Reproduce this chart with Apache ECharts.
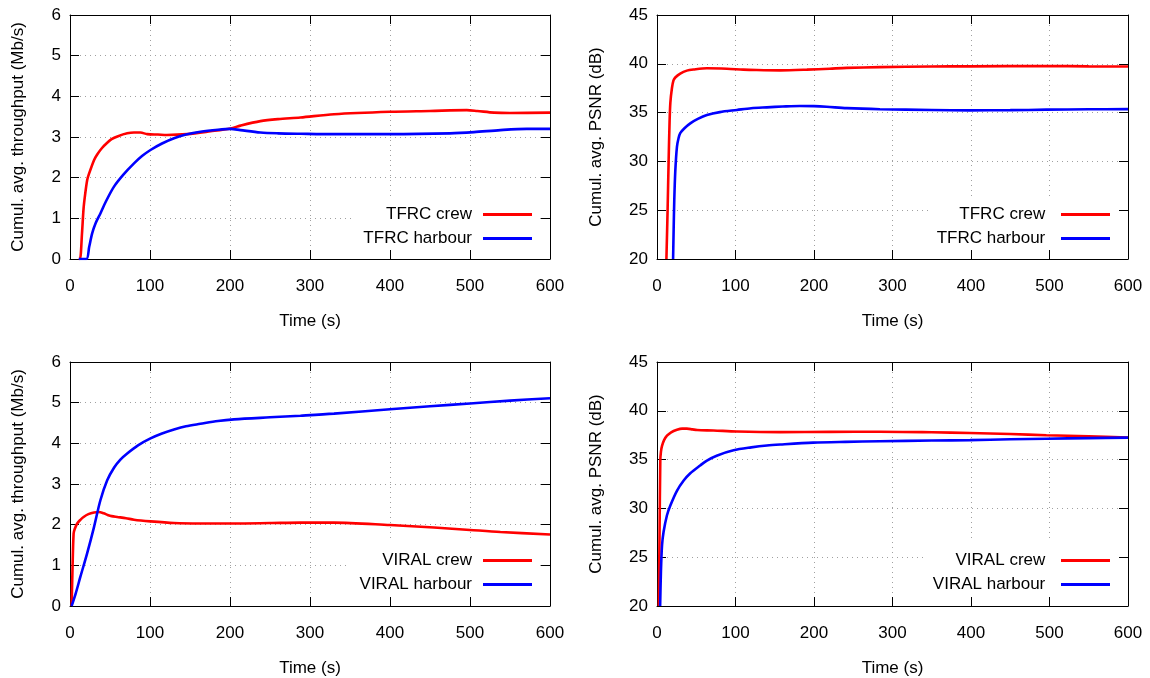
<!DOCTYPE html>
<html>
<head>
<meta charset="utf-8">
<script src="https://cdn.jsdelivr.net/npm/echarts@6/dist/echarts.min.js"></script>
<style>
html,body{margin:0;padding:0;background:#fff;}
#chart{width:1150px;height:678px;}
</style>
</head>
<body>
<div id="chart"></div>
<script>
// ---------- DATA (time s, value) ----------
const xTicks = [0, 100, 200, 300, 400, 500, 600];
const throughputTicks = [0, 1, 2, 3, 4, 5, 6];
const psnrTicks = [20, 25, 30, 35, 40, 45];

const tfrcCrewThroughput = [[11,0],[12.5,0],[15,0.63],[17,1.25],[19,1.6],[21.5,1.94],[23.5,2.08],[30,2.43],[34,2.57],[40,2.73],[46.5,2.86],[52,2.95],[60,3.02],[71.5,3.09],[80,3.11],[88,3.11],[96.5,3.07],[110,3.06],[121,3.05],[146.5,3.07],[175.6,3.14],[200.6,3.21],[213,3.28],[238,3.39],[260,3.44],[288,3.48],[330,3.56],[400,3.62],[450,3.64],[496,3.66],[509,3.64],[530,3.6],[550,3.59],[600,3.6]];
const tfrcHarbourThroughput = [[11,0],[20.5,0],[24,0.3],[27.7,0.63],[32,0.88],[38,1.12],[45,1.42],[55,1.78],[67,2.08],[80,2.35],[90,2.53],[100.6,2.68],[115,2.84],[130,2.97],[145,3.06],[163,3.13],[185,3.18],[200.6,3.2],[213,3.17],[238,3.11],[260,3.09],[288,3.08],[330,3.07],[400,3.07],[475,3.09],[505,3.12],[538,3.17],[571,3.2],[600,3.2]];
const tfrcCrewPsnr = [[12,20],[13.5,25],[14.8,30],[16,34],[17,36],[19,37.5],[21,38.3],[23.3,38.6],[29.6,39.0],[38,39.3],[46.6,39.42],[63.6,39.55],[89,39.5],[110,39.4],[127,39.36],[157,39.33],[191,39.4],[220,39.5],[241.7,39.58],[284,39.66],[350,39.72],[398.6,39.74],[496,39.77],[550,39.74],[600,39.72]];
const tfrcHarbourPsnr = [[20.5,20],[21.2,23],[22,26],[23.3,29],[25.4,31.5],[27.5,32.4],[29.6,32.9],[35,33.4],[42.4,33.9],[52,34.35],[63.6,34.75],[80,35.05],[101.8,35.27],[120,35.45],[140,35.54],[160,35.62],[182,35.68],[200,35.66],[216,35.6],[241.7,35.46],[284,35.35],[350,35.27],[398.6,35.23],[450,35.25],[496,35.3],[550,35.34],[600,35.36]];

const viralCrewThroughput = [[2,0],[3,0.8],[4.5,1.78],[6,1.9],[9,2.03],[13,2.12],[17,2.19],[23,2.26],[30,2.3],[36,2.31],[42,2.28],[47,2.24],[52,2.21],[59,2.19],[70,2.16],[80,2.12],[100.6,2.08],[130,2.04],[163,2.03],[205,2.03],[250,2.04],[288,2.05],[330,2.05],[400,1.99],[455,1.93],[500,1.87],[538,1.82],[600,1.76]];
const viralHarbourThroughput = [[2,0],[7,0.3],[13,0.72],[21.5,1.3],[30,1.94],[38,2.6],[46.5,3.09],[55,3.4],[63,3.6],[71.5,3.75],[85,3.95],[100.6,4.12],[115,4.24],[130,4.34],[145,4.42],[163,4.48],[185,4.55],[205,4.59],[250,4.64],[288,4.68],[330,4.73],[400,4.84],[450,4.91],[500,4.98],[550,5.05],[600,5.11]];
const viralCrewPsnr = [[2.3,20],[3.2,27],[4.2,34.9],[5,35.8],[6.4,36.4],[9,37.0],[12.7,37.45],[18,37.8],[25.4,38.05],[32,38.17],[38,38.17],[45,38.1],[51,38.03],[72,37.98],[101.8,37.88],[157,37.82],[220,37.84],[284,37.86],[350,37.8],[398.6,37.73],[450,37.62],[496,37.5],[550,37.38],[600,37.25]];
const viralHarbourPsnr = [[4,20],[5,23.5],[6.4,26.2],[8.4,27.6],[12.7,29.3],[17,30.3],[25.4,31.8],[34,32.85],[42.4,33.6],[55,34.4],[63.6,34.9],[76,35.4],[97.5,35.95],[120,36.25],[140,36.45],[157,36.55],[199,36.74],[240,36.82],[284,36.88],[350,36.95],[398.6,37.0],[450,37.08],[496,37.14],[550,37.2],[600,37.25]];

const panelNames = [
  ['TFRC crew', 'TFRC harbour'],
  ['TFRC crew ', 'TFRC harbour '],
  ['VIRAL crew', 'VIRAL harbour'],
  ['VIRAL crew ', 'VIRAL harbour ']
];
const panelData = [
  [tfrcCrewThroughput, tfrcHarbourThroughput],
  [tfrcCrewPsnr, tfrcHarbourPsnr],
  [viralCrewThroughput, viralHarbourThroughput],
  [viralCrewPsnr, viralHarbourPsnr]
];
const yTitles = ['Cumul. avg. throughput (Mb/s)', 'Cumul. avg. PSNR (dB)', 'Cumul. avg. throughput (Mb/s)', 'Cumul. avg. PSNR (dB)'];
const yTickSets = [throughputTicks, psnrTicks, throughputTicks, psnrTicks];
const xTitle = 'Time (s)';

// ---------- LAYOUT ----------
const FONT = '"Liberation Sans", Arial, Helvetica, sans-serif';
const FS = 17;
const grids = [
  {left: 70, top: 15, width: 480, height: 244},
  {left: 657, top: 15, width: 471, height: 244},
  {left: 70, top: 362, width: 480, height: 244},
  {left: 657, top: 362, width: 471, height: 244}
];
const yNameGaps = [43, 52, 43, 52];
const legendRights = [618, 40, 618, 40];
const legendTops = [[206, 230], [206, 230], [552, 576], [552, 576]];
const keyBoxes = [
  {x: 352, y: 199, w: 188, h: 50},
  {x: 932, y: 199, w: 187, h: 50},
  {x: 346, y: 541, w: 194, h: 55},
  {x: 926, y: 542, w: 193, h: 54}
];
const colors = ['#ff0000', '#0000ff'];

const splitStyle = {show: true, lineStyle: {color: '#a0a0a0', width: 1, type: [1, 4]}};
const lineStyleAxis = {show: true, onZero: false, lineStyle: {color: '#000', width: 1}};
const tickStyle = {show: true, inside: true, length: 9, lineStyle: {color: '#000', width: 1}};

const xAxes = [], yAxes = [], series = [], legends = [], graphics = [];
grids.forEach((g, i) => {
  const xMin = xTicks[0], xMax = xTicks[xTicks.length - 1];
  const yt = yTickSets[i];
  const yMin = yt[0], yMax = yt[yt.length - 1], yInt = yt[1] - yt[0];
  xAxes.push({
    type: 'value', gridIndex: i, position: 'bottom', min: xMin, max: xMax, interval: xTicks[1] - xTicks[0],
    axisLine: lineStyleAxis, axisTick: tickStyle,
    axisLabel: {color: '#000', fontFamily: FONT, fontSize: FS, margin: 19},
    splitLine: splitStyle,
    name: xTitle, nameLocation: 'middle', nameGap: 54,
    nameTextStyle: {color: '#000', fontFamily: FONT, fontSize: FS}
  });
  xAxes.push({
    type: 'value', gridIndex: i, position: 'top', min: xMin, max: xMax, interval: xTicks[1] - xTicks[0],
    axisLine: lineStyleAxis, axisTick: tickStyle, axisLabel: {show: false}, splitLine: {show: false}
  });
  yAxes.push({
    type: 'value', gridIndex: i, position: 'left', min: yMin, max: yMax, interval: yInt,
    axisLine: lineStyleAxis, axisTick: tickStyle,
    axisLabel: {color: '#000', fontFamily: FONT, fontSize: FS, margin: 9},
    splitLine: splitStyle,
    name: yTitles[i], nameLocation: 'middle', nameGap: yNameGaps[i], nameRotate: 90,
    nameTextStyle: {color: '#000', fontFamily: FONT, fontSize: FS}
  });
  yAxes.push({
    type: 'value', gridIndex: i, position: 'right', min: yMin, max: yMax, interval: yInt,
    axisLine: lineStyleAxis, axisTick: tickStyle, axisLabel: {show: false}, splitLine: {show: false}
  });
  panelData[i].forEach((d, k) => {
    series.push({
      type: 'line', name: panelNames[i][k], xAxisIndex: 2 * i, yAxisIndex: 2 * i,
      data: d, showSymbol: false, symbol: 'none', smooth: 0.3,
      clip: true, z: 3,
      lineStyle: {color: colors[k], width: 2.6}, itemStyle: {color: colors[k]},
      emphasis: {disabled: true}
    });
    legends.push({
      data: [panelNames[i][k]], right: legendRights[i], top: legendTops[i][k],
      align: 'right', orient: 'vertical', icon: 'rect', itemWidth: 49, itemHeight: 3,
      padding: 0, selectedMode: false, z: 5,
      textStyle: {color: '#000', fontFamily: FONT, fontSize: FS, padding: [0, 6, 0, 0]}
    });
  });
  const b = keyBoxes[i];
  graphics.push({type: 'rect', z: 1, silent: true, shape: {x: b.x, y: b.y, width: b.w, height: b.h}, style: {fill: '#fff'}});
});

const chart = echarts.init(document.getElementById('chart'), null, {renderer: 'canvas'});
chart.setOption({
  animation: false,
  backgroundColor: '#fff',
  textStyle: {fontFamily: FONT},
  grid: grids.map(g => Object.assign({containLabel: false}, g)),
  xAxis: xAxes,
  yAxis: yAxes,
  legend: legends,
  graphic: graphics,
  series: series
});
</script>
</body>
</html>
